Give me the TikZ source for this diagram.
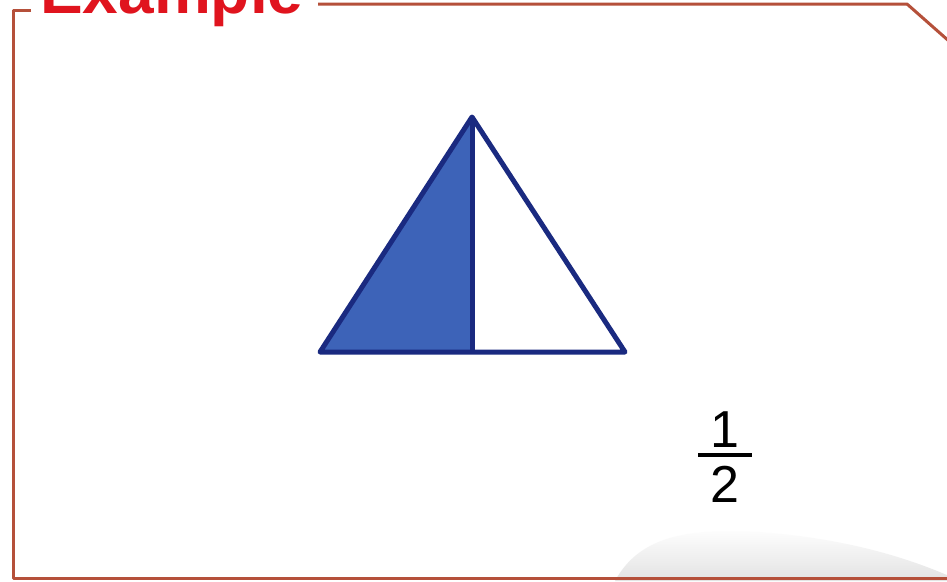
\documentclass[tikz,border=0pt]{standalone}
\usepackage{fontspec}
\setmainfont{Liberation Sans}
\usetikzlibrary{fadings}
\definecolor{framecol}{HTML}{B5503A}
\definecolor{titlecol}{HTML}{E0141E}
\definecolor{triline}{HTML}{1A2A80}
\definecolor{trifill}{HTML}{3D63B8}
\tikzset{
  frameline/.style={draw=framecol, line width=3pt, line join=round},
  triedge/.style={draw=triline, line width=5pt, line join=round},
  digit/.style={font=\fontsize{52}{52}\selectfont, inner sep=0pt, text=black}
}
\begin{document}
\begin{tikzpicture}[x=1pt,y=-1pt]
\useasboundingbox (0,0) rectangle (947,581);
\clip (0,0) rectangle (947,581);
\fill[white] (0,0) rectangle (947,581);
% shadow blob bottom right
\fill[gray!22, path fading=north] (615,581) .. controls (640,535) and (690,528) .. (760,532) .. controls (840,538) and (900,555) .. (947,575) -- (947,581) -- cycle;
% frame
\draw[frameline] (31,10) -- (13,10) -- (13,578) -- (947,578);
\draw[frameline] (318,4) -- (907,4) -- (950,42);
% title (cut off at the top, as in the reference)
\node[anchor=base west, inner sep=0pt, text=titlecol, font=\fontsize{64}{64}\selectfont\bfseries] (title) at (40,13) {Example};
% triangle
\coordinate (apex) at (472,117);
\coordinate (bl) at (320,352);
\coordinate (br) at (625,352);
\coordinate (mid) at (472,352);
\fill[trifill] (apex) -- (bl) -- (mid) -- cycle;
\draw[triedge] (apex) -- (bl) -- (br) -- cycle;
\draw[triedge] (apex) -- (mid);
% fraction
\node[digit, anchor=base] (one) at (725,447) {1};
\node[digit, anchor=base] (two) at (725,502) {2};
\draw[line width=3.5pt] (one.south west |- 0,455) ++(-12,0) coordinate (barL) (one.south east |- 0,455) ++(12,0) coordinate (barR);
\draw[line width=3.5pt] (barL) -- (barR);
\end{tikzpicture}
\end{document}
